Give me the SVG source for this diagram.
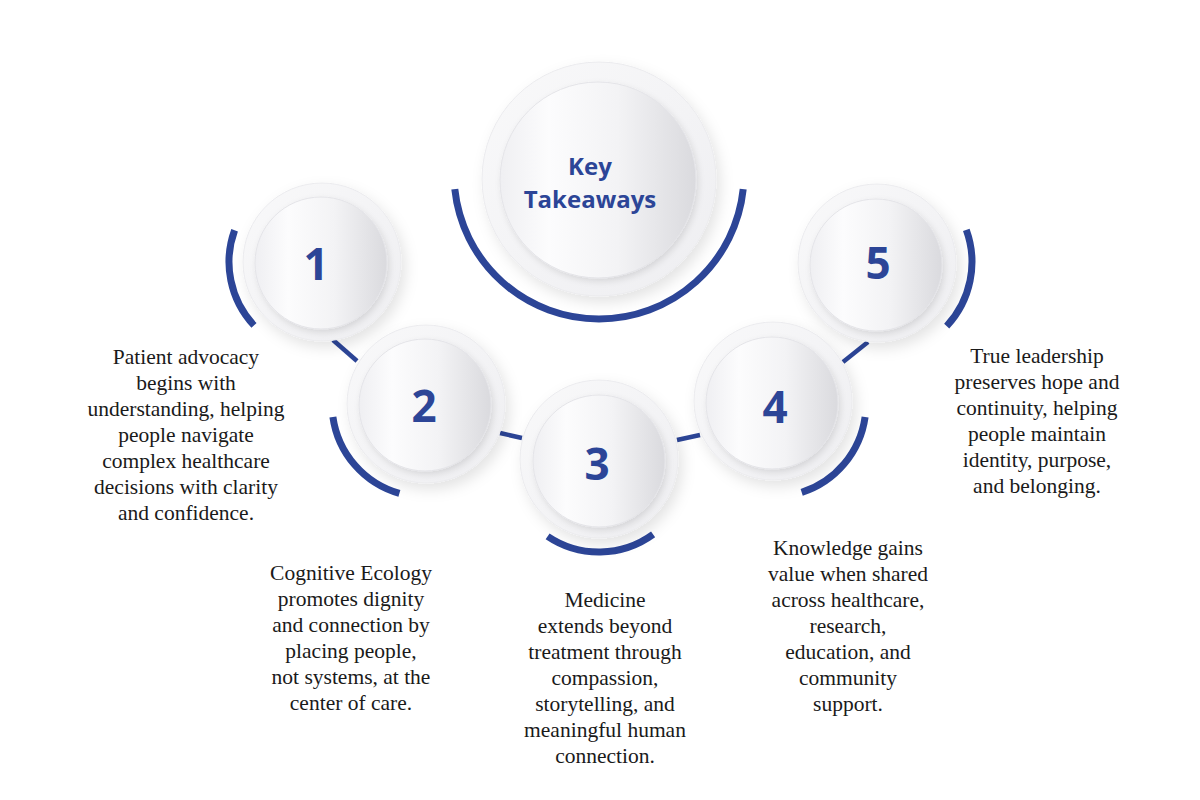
<svg xmlns="http://www.w3.org/2000/svg" width="1200" height="800" viewBox="0 0 1200 800">
  <defs>
    <filter id="sh" x="-30%" y="-30%" width="160%" height="160%">
      <feDropShadow dx="4" dy="6" stdDeviation="7" flood-color="#000" flood-opacity="0.11"/>
    </filter>
    <filter id="sh2" x="-20%" y="-20%" width="140%" height="140%">
      <feDropShadow dx="2" dy="3" stdDeviation="3" flood-color="#000" flood-opacity="0.11"/>
    </filter>
    <linearGradient id="inner" x1="0" y1="0" x2="1" y2="0">
      <stop offset="0" stop-color="#efeff2"/>
      <stop offset="0.25" stop-color="#fcfcfd"/>
      <stop offset="0.6" stop-color="#f3f3f5"/>
      <stop offset="1" stop-color="#dadade"/>
    </linearGradient>
    <linearGradient id="outer" x1="0" y1="0" x2="1" y2="1">
      <stop offset="0" stop-color="#f9f9fa"/>
      <stop offset="1" stop-color="#eeeef1"/>
    </linearGradient>
  </defs>
  <style>
    .ring { fill: url(#outer); stroke: #ebebee; stroke-width: 1; filter: url(#sh); }
    .core { fill: url(#inner); stroke: #e4e4e8; stroke-width: 1; filter: url(#sh2); }
    .arc { fill: none; stroke: #2c4597; stroke-width: 7; }
    .conn { fill: none; stroke: #2c4597; stroke-width: 4.5; }
    .num { font-family: "Open Sans", "DejaVu Sans", sans-serif; font-weight: 700; font-size: 44px; fill: #2c4597; text-anchor: middle; }
    .title { font-family: "Open Sans", "DejaVu Sans", sans-serif; font-weight: 700; font-size: 24px; fill: #2c4597; text-anchor: middle; }
    .body { font-family: "Liberation Serif", "Times New Roman", serif; font-size: 21.5px; fill: #1a1a1a; text-anchor: middle; }
  </style>
  <rect width="1200" height="800" fill="#ffffff"/>

  <g id="connectors">
    <line class="conn" x1="333" y1="340" x2="357" y2="361"/>
    <line class="conn" x1="500" y1="433" x2="522" y2="438"/>
    <line class="conn" x1="677" y1="440" x2="700" y2="435"/>
    <line class="conn" x1="843" y1="362" x2="868" y2="342"/>
  </g>

  <g id="node-center">
    <path class="arc" d="M 743.2 189.2 A 145 145 0 0 1 454.8 189.2"/>
    <circle class="ring" cx="599" cy="179" r="117"/>
    <circle class="core" cx="598" cy="180" r="98"/>
    <text class="title" x="590" y="175">Key</text>
    <text class="title" x="590" y="208">Takeaways</text>
  </g>

  <g id="node-1">
    <path class="arc" d="M 254 325.4 A 93 93 0 0 1 234.6 230.2"/>
    <circle class="ring" cx="322" cy="262" r="79"/>
    <circle class="core" cx="321" cy="263" r="66"/>
    <text class="num" x="316" y="280">1</text>
  </g>

  <g id="node-2">
    <path class="arc" d="M 399.4 493.4 A 93 93 0 0 1 332.9 416.9"/>
    <circle class="ring" cx="426" cy="404" r="79"/>
    <circle class="core" cx="425" cy="405" r="66"/>
    <text class="num" x="424" y="422">2</text>
  </g>

  <g id="node-3">
    <path class="arc" d="M 653.1 534.4 A 92 92 0 0 1 547.6 536.3"/>
    <circle class="ring" cx="599" cy="459" r="79"/>
    <circle class="core" cx="599" cy="461" r="66"/>
    <text class="num" x="597" y="480">3</text>
  </g>

  <g id="node-4">
    <path class="arc" d="M 865.1 416.9 A 93 93 0 0 1 801.7 492.4"/>
    <circle class="ring" cx="773" cy="401" r="79"/>
    <circle class="core" cx="772" cy="403" r="66"/>
    <text class="num" x="775" y="423">4</text>
  </g>

  <g id="node-5">
    <path class="arc" d="M 966.3 229.9 A 94 94 0 0 1 946.7 326.1"/>
    <circle class="ring" cx="877" cy="263" r="79"/>
    <circle class="core" cx="876" cy="265" r="66"/>
    <text class="num" x="878" y="279">5</text>
  </g>

  <g id="text-1">
    <text class="body" x="186" y="364">Patient advocacy</text>
    <text class="body" x="186" y="390">begins with</text>
    <text class="body" x="186" y="416">understanding, helping</text>
    <text class="body" x="186" y="442">people navigate</text>
    <text class="body" x="186" y="468">complex healthcare</text>
    <text class="body" x="186" y="494">decisions with clarity</text>
    <text class="body" x="186" y="520">and confidence.</text>
  </g>

  <g id="text-2">
    <text class="body" x="351" y="580">Cognitive Ecology</text>
    <text class="body" x="351" y="606">promotes dignity</text>
    <text class="body" x="351" y="632">and connection by</text>
    <text class="body" x="351" y="658">placing people,</text>
    <text class="body" x="351" y="684">not systems, at the</text>
    <text class="body" x="351" y="710">center of care.</text>
  </g>

  <g id="text-3">
    <text class="body" x="605" y="607">Medicine</text>
    <text class="body" x="605" y="633">extends beyond</text>
    <text class="body" x="605" y="659">treatment through</text>
    <text class="body" x="605" y="685">compassion,</text>
    <text class="body" x="605" y="711">storytelling, and</text>
    <text class="body" x="605" y="737">meaningful human</text>
    <text class="body" x="605" y="763">connection.</text>
  </g>

  <g id="text-4">
    <text class="body" x="848" y="555">Knowledge gains</text>
    <text class="body" x="848" y="581">value when shared</text>
    <text class="body" x="848" y="607">across healthcare,</text>
    <text class="body" x="848" y="633">research,</text>
    <text class="body" x="848" y="659">education, and</text>
    <text class="body" x="848" y="685">community</text>
    <text class="body" x="848" y="711">support.</text>
  </g>

  <g id="text-5">
    <text class="body" x="1037" y="363">True leadership</text>
    <text class="body" x="1037" y="389">preserves hope and</text>
    <text class="body" x="1037" y="415">continuity, helping</text>
    <text class="body" x="1037" y="441">people maintain</text>
    <text class="body" x="1037" y="467">identity, purpose,</text>
    <text class="body" x="1037" y="493">and belonging.</text>
  </g>
</svg>
